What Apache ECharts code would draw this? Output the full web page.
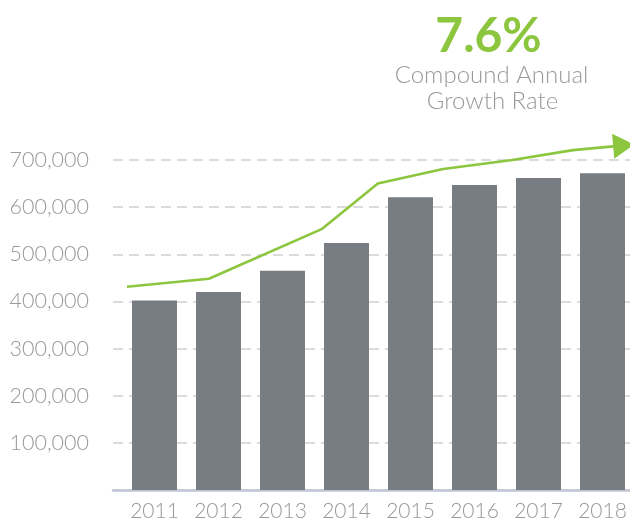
<!DOCTYPE html>
<html>
<head>
<meta charset="utf-8">
<script src="https://cdn.jsdelivr.net/npm/echarts@6/dist/echarts.min.js"></script>
<style>
  html, body { margin: 0; padding: 0; background: #ffffff; }
  #chart { width: 630px; height: 519px; }
</style>
</head>
<body>
<div id="chart"></div>
<script>
// Yearly totals drawn as bars
const years = ['2011', '2012', '2013', '2014', '2015', '2016', '2017', '2018'];
const totals = [402000, 420000, 465000, 524000, 621000, 647000, 662000, 672000];

// Growth trend arrow: vertices as [fractional year, value]
const trendYears = [2010.57, 2011.85, 2013.62, 2014.49, 2015.51, 2016.59, 2017.54, 2018.33];
const trendValues = [431000, 448000, 554000, 650000, 681000, 700000, 721000, 731000];

// Value axis ticks
const yMin = 0;
const yMax = 700000;
const yStep = 100000;

// Headline figure
const cagrValue = '7.6%';
const cagrCaption = ['Compound Annual', 'Growth Rate'];

const GREEN = '#8cc63f';
const BAR = '#787c83';
const LABEL = '#999999';
const FONT = 'Lato, "Open Sans", sans-serif';

const chart = echarts.init(document.getElementById('chart'), null, { renderer: 'canvas' });

const lastIdx = trendYears.length - 1;
const trendData = trendYears.map((yr, i) => {
  const item = { value: [yr, trendValues[i]] };
  if (i === lastIdx) {
    item.symbol = 'triangle';
    item.symbolSize = [25, 21];
    item.symbolRotate = -85;
    item.itemStyle = { color: GREEN };
  } else {
    item.symbol = 'none';
  }
  return item;
});

chart.setOption({
  animation: false,
  backgroundColor: '#ffffff',
  grid: [
    // gridlines, tick labels and baseline
    { left: 113, right: 0, top: 160, bottom: 29, containLabel: false, outerBoundsMode: 'none' },
    // bars, year labels and trend arrow
    { left: 122.5, width: 512, top: 160, bottom: 29, containLabel: false, outerBoundsMode: 'none' }
  ],
  xAxis: [
    {
      gridIndex: 0, type: 'category', data: years,
      axisLine: { show: true, lineStyle: { color: '#c1c5d5', width: 2.6 } },
      axisTick: { show: false }, axisLabel: { show: false }, splitLine: { show: false }
    },
    {
      gridIndex: 1, type: 'category', data: years,
      axisLine: { show: false }, axisTick: { show: false },
      axisLabel: { color: LABEL, fontFamily: FONT, fontWeight: 300, fontSize: 21, margin: 11 }
    },
    {
      gridIndex: 1, type: 'value', min: 2010.5, max: 2018.5, show: false
    }
  ],
  yAxis: [
    {
      gridIndex: 0, type: 'value', min: yMin, max: yMax, interval: yStep,
      axisLine: { show: false }, axisTick: { show: false },
      axisLabel: {
        color: LABEL, fontFamily: FONT, fontWeight: 300, fontSize: 21.5, margin: 24,
        formatter: v => (v === 0 ? '' : v.toLocaleString('en-US'))
      },
      splitLine: { show: true, lineStyle: { color: '#dcdcdc', width: 2, type: [10, 6] } }
    },
    {
      gridIndex: 1, type: 'value', min: yMin, max: yMax, interval: yStep, show: false,
      splitLine: { show: false }
    }
  ],
  series: [
    {
      type: 'bar', xAxisIndex: 1, yAxisIndex: 1, data: totals,
      barWidth: 45, itemStyle: { color: BAR }, z: 2
    },
    {
      type: 'line', xAxisIndex: 2, yAxisIndex: 1, data: trendData,
      clip: false, smooth: false, z: 5,
      lineStyle: { color: GREEN, width: 2.6 },
      itemStyle: { color: GREEN }
    }
  ],
  graphic: [
    {
      type: 'text', x: 488.5, y: 37, z: 10,
      style: {
        text: cagrValue, fill: GREEN, align: 'center', verticalAlign: 'middle',
        font: 'bold 48px ' + FONT
      }
    },
    {
      type: 'text', x: 491.5, y: 75, z: 10,
      style: {
        text: cagrCaption[0], fill: LABEL, align: 'center', verticalAlign: 'middle',
        font: '300 24px ' + FONT
      }
    },
    {
      type: 'text', x: 492.5, y: 101.5, z: 10,
      style: {
        text: cagrCaption[1], fill: LABEL, align: 'center', verticalAlign: 'middle',
        font: '300 24px ' + FONT
      }
    }
  ]
});
</script>
</body>
</html>
